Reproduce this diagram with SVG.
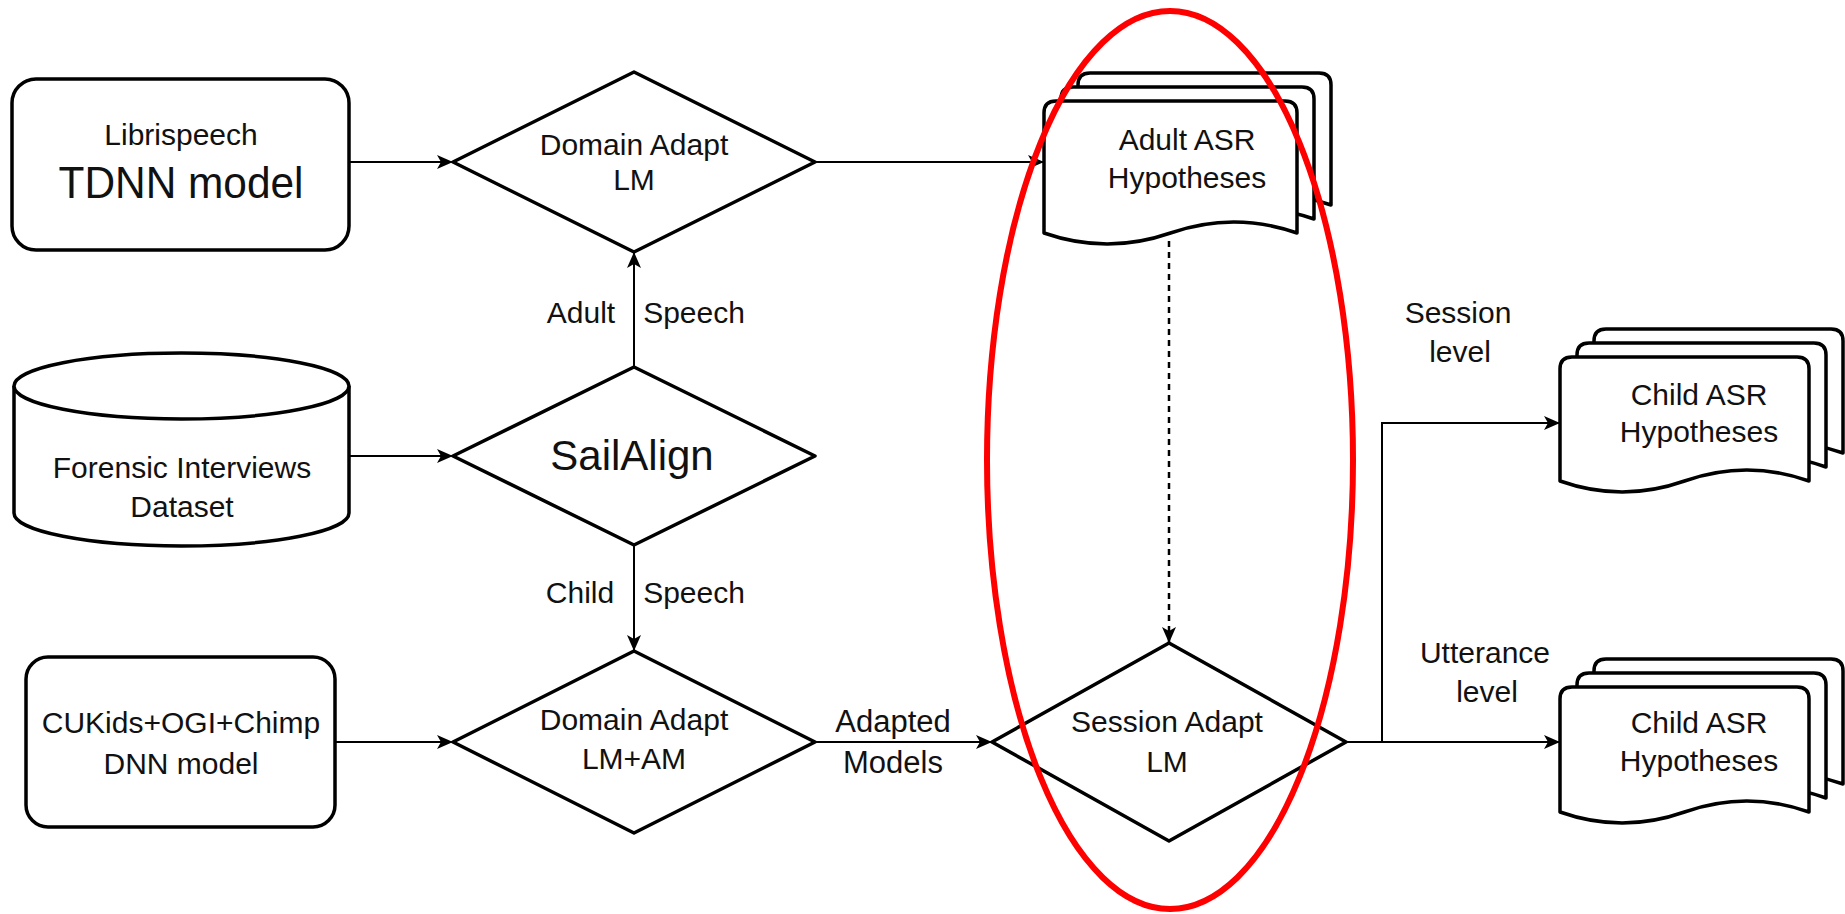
<svg xmlns="http://www.w3.org/2000/svg" width="1845" height="914" viewBox="0 0 1845 914">
<style>
.node{fill:#fff;stroke:#000;stroke-width:3.5;stroke-linejoin:round}
.edge{fill:none;stroke:#000;stroke-width:2}
.dash{fill:none;stroke:#000;stroke-width:2.5;stroke-dasharray:6 5}
text{font-family:"Liberation Sans",Arial,Helvetica,sans-serif;fill:#111;text-anchor:middle}
.t30{font-size:30px}
.t31{font-size:31px}
</style>
<defs>
<marker id="arr" markerUnits="userSpaceOnUse" markerWidth="17" markerHeight="15" refX="16" refY="7" orient="auto">
<path d="M0,0 L16,7 L0,14 L4,7 Z" fill="#000"/>
</marker>
</defs>
<rect width="1845" height="914" fill="#fff"/>
<g id="connectors">
<path class="edge" d="M349,162 L453,162" marker-end="url(#arr)"/>
<path class="edge" d="M815,162 L1044,162" marker-end="url(#arr)"/>
<path class="edge" d="M349,456 L453,456" marker-end="url(#arr)"/>
<path class="edge" d="M634,367 L634,252" marker-end="url(#arr)"/>
<path class="edge" d="M634,545 L634,651" marker-end="url(#arr)"/>
<path class="edge" d="M335,742 L453,742" marker-end="url(#arr)"/>
<path class="edge" d="M815,742 L992,742" marker-end="url(#arr)"/>
<path class="dash" d="M1169,241 L1169,643" marker-end="url(#arr)"/>
<path class="edge" d="M1346,742 L1560,742" marker-end="url(#arr)"/>
<path class="edge" d="M1382,742 L1382,423 L1560,423" marker-end="url(#arr)"/>
<text class="t30" x="581" y="323">Adult</text>
<text class="t30" x="694" y="323">Speech</text>
<text class="t30" x="580" y="603">Child</text>
<text class="t30" x="694" y="603">Speech</text>
<text class="t31" x="893" y="732">Adapted</text>
<text class="t31" x="893" y="773">Models</text>
<text class="t30" x="1458" y="323">Session</text>
<text class="t30" x="1460" y="362">level</text>
<text class="t30" x="1485" y="663">Utterance</text>
<text class="t30" x="1487" y="702">level</text>
</g>
<g id="librispeech">
<rect class="node" x="12" y="79" width="337" height="171" rx="24"/>
<text class="t30" x="181" y="145">Librispeech</text>
<text x="181" y="198" font-size="45" textLength="245" lengthAdjust="spacingAndGlyphs">TDNN model</text>
</g>
<g id="domain-adapt-lm">
<path class="node" d="M453,162 L634,72 L815,162 L634,252 Z"/>
<text class="t30" x="634" y="155">Domain Adapt</text>
<text class="t30" x="634" y="190">LM</text>
</g>
<g id="forensic">
<path class="node" d="M14,386 A167.5,33 0 0 1 349,386 L349,513 A167.5,33 0 0 1 14,513 Z"/>
<path class="node" d="M14,386 A167.5,33 0 0 0 349,386" fill="none"/>
<text class="t30" x="182" y="478">Forensic Interviews</text>
<text class="t30" x="182" y="517">Dataset</text>
</g>
<g id="sailalign">
<path class="node" d="M453,456 L634,367 L815,456 L634,545 Z"/>
<text x="632" y="470" font-size="42">SailAlign</text>
</g>
<g id="cukids">
<rect class="node" x="26" y="657" width="309" height="170" rx="22"/>
<text class="t30" x="181" y="733">CUKids+OGI+Chimp</text>
<text class="t30" x="181" y="774">DNN model</text>
</g>
<g id="domain-adapt-lmam">
<path class="node" d="M453,742 L634,651 L815,742 L634,833 Z"/>
<text class="t30" x="634" y="730">Domain Adapt</text>
<text class="t30" x="634" y="769">LM+AM</text>
</g>
<g id="session-adapt">
<path class="node" d="M992,742 L1169,643 L1346,742 L1169,841 Z"/>
<text class="t30" x="1167" y="732">Session Adapt</text>
<text class="t30" x="1167" y="772">LM</text>
</g>
<g id="adult-asr">
<path class="node" d="M1078,85 Q1078,73 1090,73 L1319,73 Q1331,73 1331,85 L1331,205 Q1267.75,183 1204.5,205 Q1141.25,227 1078,205 Z"/>
<path class="node" d="M1061,99 Q1061,87 1073,87 L1302,87 Q1314,87 1314,99 L1314,219 Q1250.75,197 1187.5,219 Q1124.25,241 1061,219 Z"/>
<path class="node" d="M1044,113 Q1044,101 1056,101 L1285,101 Q1297,101 1297,113 L1297,233 Q1233.75,211 1170.5,233 Q1107.25,255 1044,233 Z"/>
<text class="t30" x="1187" y="150">Adult ASR</text>
<text class="t30" x="1187" y="188">Hypotheses</text>
</g>
<g id="child-asr-session">
<path class="node" d="M1594,341 Q1594,329 1606,329 L1831,329 Q1843,329 1843,341 L1843,453 Q1780.75,431 1718.5,453 Q1656.25,475 1594,453 Z"/>
<path class="node" d="M1577,355 Q1577,343 1589,343 L1814,343 Q1826,343 1826,355 L1826,467 Q1763.75,445 1701.5,467 Q1639.25,489 1577,467 Z"/>
<path class="node" d="M1560,369 Q1560,357 1572,357 L1797,357 Q1809,357 1809,369 L1809,481 Q1746.75,459 1684.5,481 Q1622.25,503 1560,481 Z"/>
<text class="t30" x="1699" y="405">Child ASR</text>
<text class="t30" x="1699" y="442">Hypotheses</text>
</g>
<g id="child-asr-utterance">
<path class="node" d="M1594,671 Q1594,659 1606,659 L1831,659 Q1843,659 1843,671 L1843,784 Q1780.75,762 1718.5,784 Q1656.25,806 1594,784 Z"/>
<path class="node" d="M1577,685 Q1577,673 1589,673 L1814,673 Q1826,673 1826,685 L1826,798 Q1763.75,776 1701.5,798 Q1639.25,820 1577,798 Z"/>
<path class="node" d="M1560,699 Q1560,687 1572,687 L1797,687 Q1809,687 1809,699 L1809,812 Q1746.75,790 1684.5,812 Q1622.25,834 1560,812 Z"/>
<text class="t30" x="1699" y="733">Child ASR</text>
<text class="t30" x="1699" y="771">Hypotheses</text>
</g>
<g id="highlight">
<ellipse cx="1170" cy="460" rx="183" ry="449" fill="none" stroke="#ff0000" stroke-width="6"/>
</g>
</svg>
